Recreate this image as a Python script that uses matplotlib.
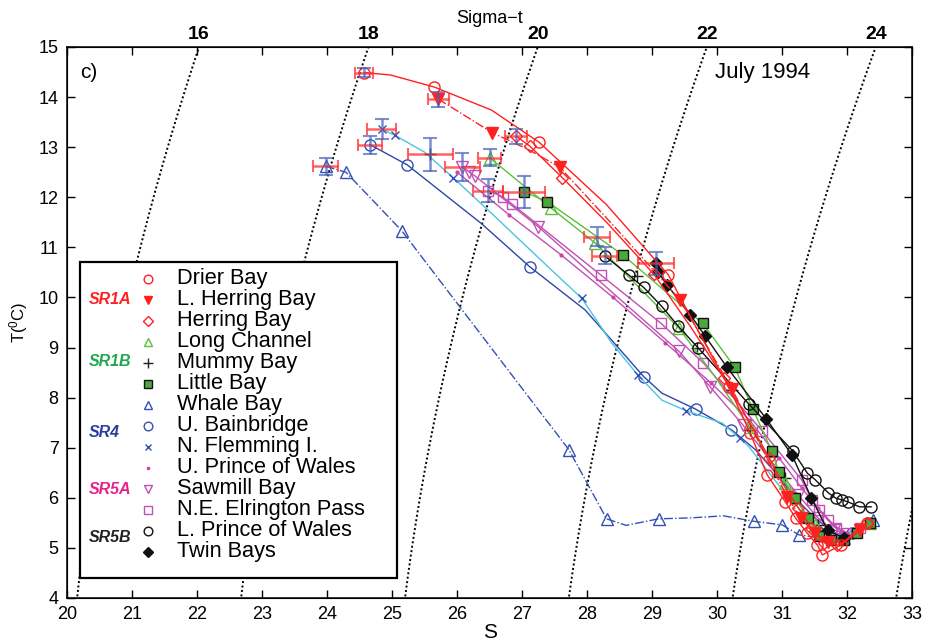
import numpy as np
import matplotlib
matplotlib.use("Agg")
import matplotlib.pyplot as plt
from matplotlib.patches import Rectangle

plt.rcParams['font.family'] = ['Liberation Sans', 'DejaVu Sans']
plt.rcParams['mathtext.default'] = 'regular'

# ---------------- station profiles (salinity S, temperature T) ----------------
# SR1A
drier_s = [24.57, 24.98, 25.65, 26.53, 27.26, 28.3, 29.25, 29.7, 30.18, 30.51, 30.77,
           31.05, 31.21, 31.39, 31.54, 31.62, 31.75, 31.9, 32.1, 32.3]
drier_t = [14.49, 14.44, 14.20, 13.74, 13.10, 11.85, 10.45, 9.35, 8.22, 7.29, 6.46,
           5.92, 5.59, 5.29, 5.06, 4.86, 4.95, 5.05, 5.3, 5.5]
lherring_s = [25.71, 26.54, 27.1, 27.58, 28.5, 29.43, 30.23, 30.65, 31.08, 31.29, 31.5,
              31.7, 31.95, 32.2]
lherring_t = [13.96, 13.29, 12.95, 12.60, 11.3, 9.95, 8.17, 7.1, 6.02, 5.59, 5.3,
              5.12, 5.1, 5.35]
herring_s = [26.91, 27.12, 27.62, 28.3, 29.03, 29.6, 30.1, 30.5, 30.8, 31.0, 31.25,
             31.45, 31.65, 31.85, 32.1, 32.3]
herring_t = [13.22, 13.02, 12.39, 11.5, 10.46, 9.4, 8.4, 7.5, 6.8, 6.3, 5.8,
             5.4, 5.1, 5.05, 5.25, 5.5]
# SR1B
longch_s = [26.50, 27.44, 28.12, 28.8, 29.41, 29.95, 30.5, 30.85, 31.05, 31.3, 31.5,
            31.7, 31.95, 32.15, 32.35]
longch_t = [12.79, 11.79, 11.09, 10.2, 9.39, 8.45, 7.41, 6.7, 6.3, 5.8, 5.45,
            5.25, 5.2, 5.3, 5.5]
mummy_s = [25.59, 28.77, 29.69, 30.23, 30.51, 31.05, 31.55]
mummy_t = [12.86, 10.42, 9.00, 8.15, 7.35, 6.4, 5.45]
little_s = [27.03, 27.39, 28.55, 29.78, 30.27, 30.55, 30.84, 30.95, 31.2, 31.4, 31.57,
            31.75, 31.95, 32.15, 32.35]
little_t = [12.11, 11.91, 10.85, 9.48, 8.61, 7.77, 6.94, 6.52, 6.0, 5.6, 5.23,
            5.15, 5.15, 5.3, 5.5]
# SR4
whale_s = [23.98, 24.29, 25.15, 27.72, 28.30, 28.6, 29.10, 29.6, 30.1, 30.57, 31.00,
           31.26, 31.6, 31.9, 32.15, 32.4]
whale_t = [12.62, 12.50, 11.33, 6.96, 5.58, 5.45, 5.58, 5.6, 5.64, 5.53, 5.46,
           5.26, 5.2, 5.25, 5.35, 5.55]
bain_s = [24.66, 25.23, 26.37, 27.12, 27.97, 28.87, 29.15, 29.67, 30.22, 30.59, 30.9,
          31.2, 31.5, 31.75, 31.93, 32.08, 32.25, 32.44]
bain_t = [13.05, 12.65, 11.48, 10.61, 9.75, 8.42, 8.09, 7.77, 7.36, 6.96, 6.5,
          6.0, 5.6, 5.35, 5.23, 5.29, 5.4, 5.56]
flem_s = [24.84, 25.04, 25.5, 25.94, 26.53, 27.45, 27.92, 28.38, 28.78, 29.15, 29.52,
          30.08, 30.35, 30.49, 30.8, 31.1, 31.4, 31.65, 31.9, 32.1, 32.4]
flem_t = [13.36, 13.24, 12.9, 12.39, 11.68, 10.55, 9.98, 9.09, 8.45, 7.95, 7.74,
          7.49, 7.19, 7.02, 6.5, 6.0, 5.6, 5.35, 5.25, 5.3, 5.55]
# SR5A
upw_s = [26.0, 26.8, 27.6, 28.4, 29.2, 29.9, 30.5, 30.95, 31.3, 31.55, 31.8, 32.0]
upw_t = [12.5, 11.65, 10.85, 10.0, 9.1, 8.3, 7.55, 6.8, 6.2, 5.8, 5.45, 5.3]
sawmill_s = [26.08, 26.19, 26.27, 27.25, 28.3, 29.41, 29.89, 30.4, 30.85, 31.25, 31.55,
             31.8, 32.0]
sawmill_t = [12.61, 12.50, 12.43, 11.41, 10.2, 8.93, 8.22, 7.45, 6.7, 6.05, 5.6,
             5.35, 5.3]
elr_s = [26.48, 26.70, 26.84, 28.21, 29.14, 29.79, 30.69, 31.30, 31.46, 31.57, 31.70,
         31.83, 32.0, 32.2]
elr_t = [12.13, 12.01, 11.87, 10.45, 9.48, 8.69, 7.34, 6.36, 5.96, 5.76, 5.56,
         5.39, 5.3, 5.4]
# SR5B
lpw_s = [28.27, 28.64, 28.87, 29.15, 29.40, 29.71, 30.49, 31.16, 31.39, 31.51, 31.71,
         31.83, 31.92, 32.01, 32.19, 32.37]
lpw_t = [10.83, 10.45, 10.20, 9.82, 9.43, 8.99, 7.87, 6.94, 6.49, 6.36, 6.10,
         5.99, 5.96, 5.92, 5.82, 5.82]
twin_s = [29.06, 29.09, 29.23, 29.59, 29.81, 30.15, 30.76, 31.15, 31.45, 31.7, 31.95]
twin_t = [10.68, 10.51, 10.25, 9.65, 9.24, 8.61, 7.57, 6.86, 6.0, 5.35, 5.2]

# surface-layer uncertainty (centre S, centre T, +/- S, +/- T)
err_s = [24.57, 25.71, 26.91, 24.84, 24.66, 23.98, 25.59, 26.08, 26.50, 26.48, 27.03,
         28.15, 28.27, 29.06]
err_t = [14.49, 13.96, 13.22, 13.36, 13.05, 12.62, 12.86, 12.61, 12.79, 12.13, 12.11,
         11.21, 10.83, 10.68]
err_ds = [0.14, 0.16, 0.17, 0.22, 0.18, 0.19, 0.34, 0.27, 0.18, 0.23, 0.33, 0.20, 0.19, 0.27]
err_dt = [0.09, 0.15, 0.15, 0.20, 0.18, 0.17, 0.33, 0.28, 0.17, 0.23, 0.32, 0.19, 0.17, 0.23]

sigma_levels = [16, 18, 20, 22, 24, 26]
sigma_labels = [16, 18, 20, 22, 24]
group_names = ['SR1A', 'SR1B', 'SR4', 'SR5A', 'SR5B']


def sigma_t(S, T):
    """Sigma-t from the one-atmosphere UNESCO (1981) equation of state."""
    rho_w = (999.842594 + 6.793952e-2 * T - 9.095290e-3 * T**2 + 1.001685e-4 * T**3
             - 1.120083e-6 * T**4 + 6.536332e-9 * T**5)
    A = 8.24493e-1 - 4.0899e-3 * T + 7.6438e-5 * T**2 - 8.2467e-7 * T**3 + 5.3875e-9 * T**4
    B = -5.72466e-3 + 1.0227e-4 * T - 1.6546e-6 * T**2
    C = 4.8314e-4
    return rho_w + A * S + B * S**1.5 + C * S**2 - 1000.0


def salinity_on(level, T):
    """Salinity at which sigma-t equals `level` for temperature T."""
    s_grid = np.linspace(15.0, 36.0, 4201)
    return float(np.interp(level, sigma_t(s_grid, T), s_grid))


RED = '#ff2020'
GRN = '#5cbf3c'
GRN_F = '#4aa93a'
BLU = '#2c48a8'
BLU_M = '#3550b5'
CYN = '#4cc4e0'
MAG = '#c050b4'
MAG2 = '#d040a8'

series = [
    # (s, t, label, line style, line colour, marker, marker face, marker edge, size, markevery)
    (whale_s, whale_t, 'Whale Bay', '-.', BLU_M, '^', 'none', BLU_M, 8, [0, 1, 2, 3, 4, 6, 9, 10, 11, 13, 15]),
    (bain_s, bain_t, 'U. Bainbridge', '-', BLU, 'o', 'none', BLU_M, 8, [0, 1, 3, 5, 7, 8, 11, 13, 15]),
    (flem_s, flem_t, 'N. Flemming I.', '-', CYN, 'x', 'none', BLU_M, 6, [0, 1, 3, 6, 8, 10, 12, 15, 17, 19]),
    (upw_s, upw_t, 'U. Prince of Wales', '-', MAG, '.', MAG2, MAG2, 4, None),
    (sawmill_s, sawmill_t, 'Sawmill Bay', '-', MAG, 'v', 'none', MAG, 8, [0, 1, 2, 3, 5, 6, 7, 8, 9, 10, 11]),
    (elr_s, elr_t, 'N.E. Elrington Pass', '-', MAG, 's', 'none', MAG, 7, None),
    (mummy_s, mummy_t, 'Mummy Bay', 'none', 'k', '+', 'none', '#222222', 9, None),
    (longch_s, longch_t, 'Long Channel', '-', GRN, '^', 'none', GRN, 8, [0, 1, 2, 4, 6, 8, 10, 12, 14]),
    (little_s, little_t, 'Little Bay', '-', GRN, 's', GRN_F, '#111111', 6.5, None),
    (twin_s, twin_t, 'Twin Bays', '-', '#111111', 'D', '#111111', '#111111', 6.5, None),
    (lpw_s, lpw_t, 'L. Prince of Wales', '-', '#111111', 'o', 'none', '#111111', 8, None),
    (herring_s, herring_t, 'Herring Bay', '-', RED, 'D', 'none', RED, 6, [0, 1, 2, 4, 6, 8, 10, 11, 12, 13, 15]),
    (lherring_s, lherring_t, 'L. Herring Bay', '-.', RED, 'v', RED, RED, 8, [0, 1, 3, 5, 6, 8, 9, 10, 11, 13]),
    (drier_s, drier_t, 'Drier Bay', '-', RED, 'o', 'none', RED, 8, [0, 2, 4, 6, 8, 9, 10, 11, 12, 13, 14, 15, 17, 19]),
]

fig = plt.figure(figsize=(9.26, 6.41), dpi=100)
ax = fig.add_axes([0.0724, 0.0671, 0.9126, 0.8596])
ax.set_xlim(20, 33)
ax.set_ylim(4, 15)

# isopycnals (dotted)
t_iso = np.linspace(3.5, 15.5, 120)
for lv in sigma_levels:
    s_iso = [salinity_on(lv, tt) for tt in t_iso]
    ax.plot(s_iso, t_iso, color='k', linewidth=1.4, linestyle=(0, (1, 1.3)), zorder=2)

for s, t, lab, ls, lc, mk, mf, me, ms, every in series:
    ax.plot(s, t, linestyle=ls, color=lc, linewidth=1.0, marker=mk, mfc=mf, mec=me,
            ms=ms, mew=1.0, markevery=every, zorder=3)

# uncertainty bars at the surface samples
ax.errorbar(err_s, err_t, xerr=err_ds, fmt='none', ecolor='#ff3030', alpha=0.75,
            elinewidth=1.8, capsize=4, capthick=1.5, zorder=4)
ax.errorbar(err_s, err_t, yerr=err_dt, fmt='none', ecolor='#4660b8', alpha=0.7,
            elinewidth=1.8, capsize=5, capthick=1.5, zorder=4)

# axes styling
ax.set_xticks(range(20, 34))
ax.set_yticks(range(4, 16))
ax.tick_params(axis='both', direction='in', length=6, width=1, labelsize=13,
               right=True, pad=6)
for sp in ax.spines.values():
    sp.set_linewidth(1.1)
ax.set_xlabel('S', fontsize=15, labelpad=0)
ax.set_ylabel('T($^{0}$C)', fontsize=12, labelpad=6)

# top axis: sigma-t where each isopycnal meets the upper edge
top = ax.twiny()
top.set_xlim(ax.get_xlim())
top_pos = [salinity_on(lv, 15.0) for lv in sigma_labels]
top.set_xticks(top_pos)
top.set_xticklabels([str(v) for v in sigma_labels], fontweight='bold', fontsize=14)
top.tick_params(axis='x', which='major', length=0, pad=3)
top.set_xticks(range(20, 34), minor=True)
top.tick_params(axis='x', which='minor', direction='in', length=6, width=1)
top.set_xlabel('Sigma\u2212t', fontsize=13, labelpad=2)

# annotations
ax.text(0.015, 0.953, 'c)', transform=ax.transAxes, fontsize=15, va='center', ha='left')
ax.text(0.767, 0.953, 'July 1994', transform=ax.transAxes, fontsize=16, va='center', ha='left')


# legend box
def px_to_ax(x, y):
    return (x - 67) / 845.0, (598 - y) / 551.0


x0, y0 = px_to_ax(80, 578)
x1, y1 = px_to_ax(397, 262)
ax.add_patch(Rectangle((x0, y0), x1 - x0, y1 - y0, transform=ax.transAxes,
                       facecolor='white', edgecolor='black', linewidth=1.6, zorder=6))

legend_order = ['Drier Bay', 'L. Herring Bay', 'Herring Bay', 'Long Channel', 'Mummy Bay',
                'Little Bay', 'Whale Bay', 'U. Bainbridge', 'N. Flemming I.',
                'U. Prince of Wales', 'Sawmill Bay', 'N.E. Elrington Pass',
                'L. Prince of Wales', 'Twin Bays']
style = {e[2]: e for e in series}
mx, _ = px_to_ax(148, 0)
tx, _ = px_to_ax(177, 0)
for i, name in enumerate(legend_order):
    _, yy = px_to_ax(0, 279 + 21.0 * i)
    s, t, lab, ls, lc, mk, mf, me, ms, every = style[name]
    ax.plot([mx], [yy], transform=ax.transAxes, linestyle='none', marker=mk,
            mfc=mf, mec=me, ms=ms * 0.78, mew=1.0, zorder=7, clip_on=False)
    ax.text(tx, yy, name, transform=ax.transAxes, fontsize=15.7, va='center',
            ha='left', zorder=7)

group_cols = ['#ff2020', '#1fa84f', '#2a40a0', '#e8208c', '#222222']
group_y = [300, 362, 433, 490, 538]
for name, col, gy in zip(group_names, group_cols, group_y):
    gx, yy = px_to_ax(89, gy)
    ax.text(gx, yy, name, transform=ax.transAxes, fontsize=11.5, fontweight='bold',
            fontstyle='italic', color=col, va='center', ha='left', zorder=7)

fig.savefig('out.png', dpi=100)
